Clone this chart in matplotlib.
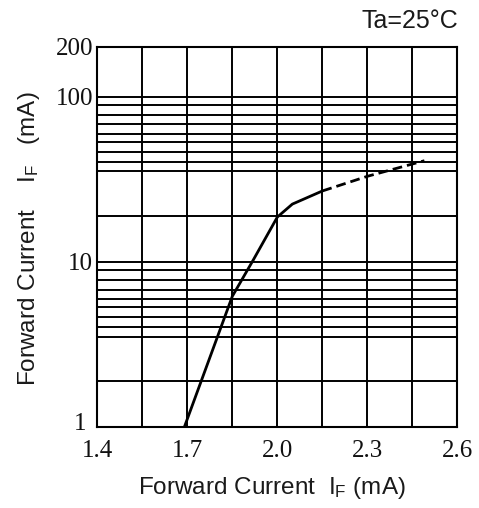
import matplotlib

matplotlib.use("Agg")
import matplotlib.pyplot as plt
import matplotlib.transforms as mtransforms

# ---------------------------------------------------------------------------
# Data
# ---------------------------------------------------------------------------

VF_SOLID = [1.69, 1.85, 1.92, 2.00, 2.05, 2.15]
IF_SOLID = [1.0, 6.2, 10.3, 18.7, 22.4, 26.9]

VF_DASHED = [2.15, 2.30, 2.49]
IF_DASHED = [26.9, 33.0, 41.0]

X_TICKS = [1.4, 1.7, 2.0, 2.3, 2.6]
X_GRID = [1.4, 1.55, 1.7, 1.85, 2.0, 2.15, 2.3, 2.45, 2.6]
Y_TICKS = [1, 10, 100, 200]
Y_TICK_LABELS = ["1", "10", "100", "200"]

# datasheet-style grid: lines placed at these fractions inside each decade
DECADE_FRACS = [0.277, 0.549, 0.607, 0.666, 0.725, 0.773, 0.833, 0.892, 0.95]

plt.rcParams["font.family"] = ["Liberation Sans", "DejaVu Sans"]
plt.rcParams["mathtext.default"] = "regular"

fig = plt.figure(figsize=(4.79, 5.08), dpi=100)
ax = fig.add_axes([0.203, 0.159, 0.752, 0.7485])

ax.set_yscale("log")
ax.set_xlim(1.4, 2.6)
ax.set_ylim(1, 200)

# grid
for x in X_GRID:
    ax.axvline(x, color="black", lw=1.4, zorder=1)
for d in (1, 10, 100):
    ax.axhline(d, color="black", lw=1.4, zorder=1)
    if d < 100:
        for f in DECADE_FRACS:
            ax.axhline(d * 10 ** f, color="black", lw=1.4, zorder=1)

# curve
ax.plot(VF_SOLID, IF_SOLID, color="black", lw=2.0, zorder=3,
        solid_capstyle="round")
ax.plot(VF_DASHED, IF_DASHED, color="black", lw=2.0, zorder=3,
        dashes=(3.5, 1.8))

ax.set_xticks(X_TICKS)
ax.set_xticklabels([f"{v:.1f}" for v in X_TICKS], family="Liberation Serif",
                   fontsize=18)
ax.set_yticks(Y_TICKS)
ax.set_yticklabels(Y_TICK_LABELS, family="Liberation Serif", fontsize=18)
ax.yaxis.set_minor_locator(matplotlib.ticker.NullLocator())
ax.tick_params(axis="both", length=0, colors="#111111")
ax.tick_params(axis="x", pad=9)
ax.tick_params(axis="y", pad=3)

# the "1" label sits a little up and left, clear of "1.4"
lbl = ax.get_yticklabels()[0]
lbl.set_transform(lbl.get_transform() +
                  mtransforms.ScaledTranslation(-5 / 72, 4 / 72, fig.dpi_scale_trans))

for s in ax.spines.values():
    s.set_linewidth(1.5)
    s.set_color("black")

fig.text(0.568, 0.04, r"Forward Current  $I_F$ (mA)", fontsize=17.5,
         ha="center", va="center", color="#1a1a1a")
fig.text(0.06, 0.53, r"Forward Current    $I_F$   (mA)", fontsize=17.5,
         ha="center", va="center", rotation=90, color="#1a1a1a")
fig.text(0.956, 0.958, "Ta=25°C", fontsize=18, ha="right", va="center",
         color="#1a1a1a")

fig.savefig("out.png", dpi=100)
